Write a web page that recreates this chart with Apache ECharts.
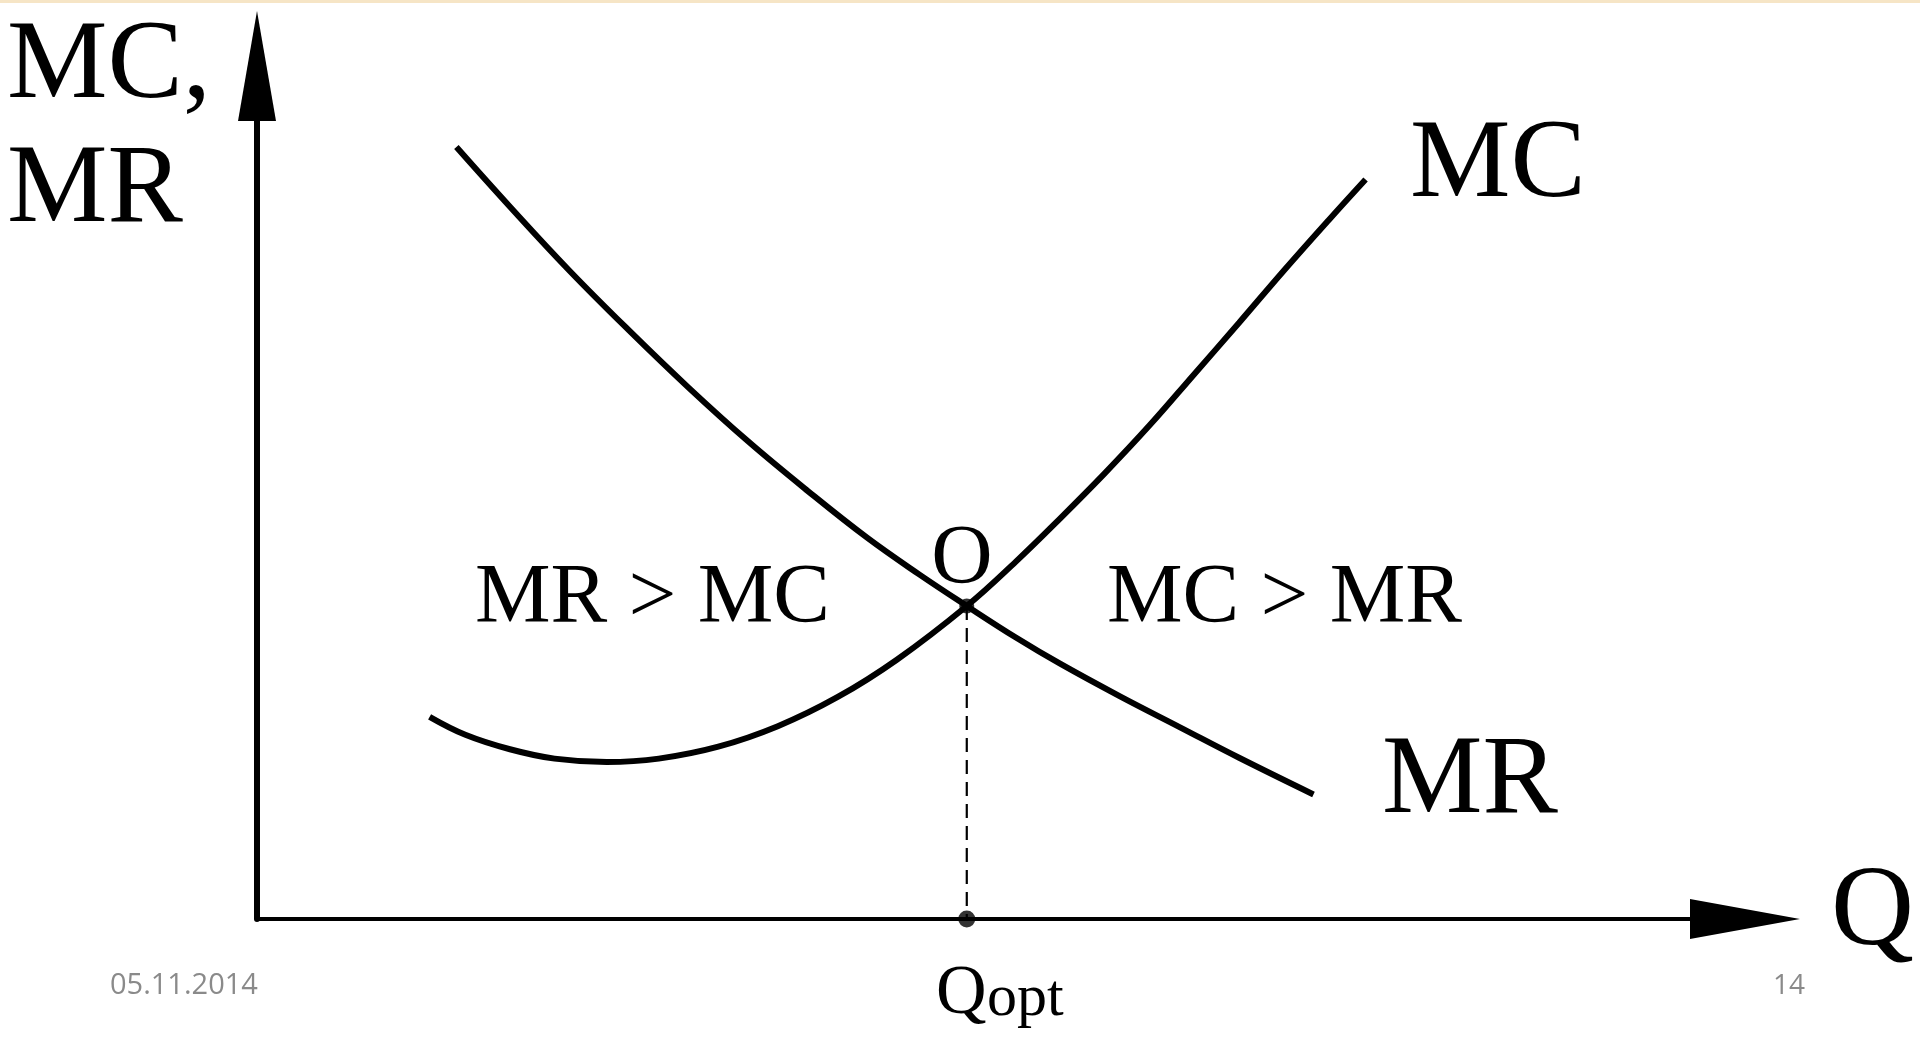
<!DOCTYPE html>
<html>
<head>
<meta charset="utf-8">
<script src="https://cdn.jsdelivr.net/npm/echarts/dist/echarts.min.js"></script>
<style>
  html, body { margin: 0; padding: 0; background: #ffffff; }
  #chart { width: 1920px; height: 1037px; }
</style>
</head>
<body>
<div id="chart"></div>
<script>
// ---- data (Q on x, money on y) ----
const mcCurve = [
  [11.6, 23.7], [14, 21.6], [17, 19.9], [20, 18.8], [23.5, 18.4],
  [27, 18.8], [31, 20.2], [35, 22.6], [39, 26.0], [43, 30.4],
  [47.7, 36.7], [51, 41.9], [54, 47.0], [57, 52.3], [60, 57.9],
  [63, 63.9], [66, 69.9], [69, 76.0], [72, 81.9], [74.5, 86.7]
];
const mrCurve = [
  [13.4, 90.5], [17, 83.5], [21, 76.0], [25, 69.0], [29, 62.3],
  [33, 56.0], [37, 50.2], [41, 44.7], [44.5, 40.4], [47.7, 36.7],
  [51, 33.0], [54, 29.9], [58, 26.1], [62, 22.5], [66, 18.9], [71, 14.6]
];
const optimumPoint = [47.7, 36.7];   // point O
const qOptPoint = [47.7, 0];         // Q opt on the Q axis
const curveNames = ['MC', 'MR'];
const yAxisTitle = ['MC,', 'MR'];
const xAxisTitle = 'Q';
const regionLabels = ['MR > MC', 'MC > MR'];
const pointLabel = 'O';
const qOptLabel = ['Q', 'opt'];
const footerLabels = ['05.11.2014', '14'];

// ---- chart ----
const serif = '"Liberation Serif", "Times New Roman", serif';
const sans = '"Open Sans", "Noto Sans", sans-serif';
function txt(text, x, y, size, align, family, color) {
  return {
    type: 'text', x: x, y: y, silent: true,
    style: {
      text: text, fill: color || '#000',
      font: 'normal ' + size + 'px ' + (family || serif),
      align: align || 'left', verticalAlign: 'middle',
      textAlign: align || 'left', textVerticalAlign: 'middle'
    }
  };
}

const chart = echarts.init(document.getElementById('chart'), null, { renderer: 'canvas' });
const option = {
  backgroundColor: '#ffffff',
  animation: false,
  grid: { left: 257, right: 175, top: 66, bottom: 118, containLabel: false },
  xAxis: {
    type: 'value', min: 0, max: 100,
    axisLine: { show: true, symbol: ['none', 'triangle'], symbolSize: [40, 110],
      lineStyle: { color: '#000', width: 4 } },
    axisTick: { show: false }, axisLabel: { show: false }, splitLine: { show: false }
  },
  yAxis: {
    type: 'value', min: 0, max: 100,
    axisLine: { show: true, symbol: ['none', 'triangle'], symbolSize: [38, 110],
      lineStyle: { color: '#000', width: 6 } },
    axisTick: { show: false }, axisLabel: { show: false }, splitLine: { show: false }
  },
  series: [
    { name: curveNames[0], type: 'line', data: mcCurve, smooth: 0.4, showSymbol: false,
      lineStyle: { color: '#000', width: 6 }, z: 3 },
    { name: curveNames[1], type: 'line', data: mrCurve, smooth: 0.4, showSymbol: false,
      lineStyle: { color: '#000', width: 6 }, z: 3 },
    { name: 'drop', type: 'line', data: [optimumPoint, qOptPoint], showSymbol: false,
      lineStyle: { color: '#000', width: 2.2, type: [14, 8] }, z: 2 },
    { name: 'points', type: 'scatter', data: [optimumPoint], symbolSize: 15,
      itemStyle: { color: '#000' }, z: 4 },
    { name: 'qpoint', type: 'scatter', data: [qOptPoint], symbolSize: 17,
      itemStyle: { color: '#000' }, z: 4 }
  ],
  graphic: [
    { type: 'rect', shape: { x: 0, y: 0, width: 1920, height: 3 }, style: { fill: '#f6e5c6' }, silent: true },
    txt(yAxisTitle[0], 7, 67, 113),
    txt(yAxisTitle[1], 7, 191, 113),
    txt(curveNames[0], 1410, 166, 113),
    txt(curveNames[1], 1382, 782, 113),
    txt(xAxisTitle, 1831, 914, 115),
    txt(pointLabel, 962, 561, 85, 'center'),
    txt(regionLabels[0], 475, 600, 85),
    txt(regionLabels[1], 1107, 600, 85),
    txt(qOptLabel[0], 936, 995, 70),
    txt(qOptLabel[1], 987, 999, 60),
    txt(footerLabels[0], 110, 986, 29, 'left', sans, '#8a8a8a'),
    txt(footerLabels[1], 1805, 986, 28, 'right', sans, '#8a8a8a')
  ]
};
chart.setOption(option);
</script>
</body>
</html>
